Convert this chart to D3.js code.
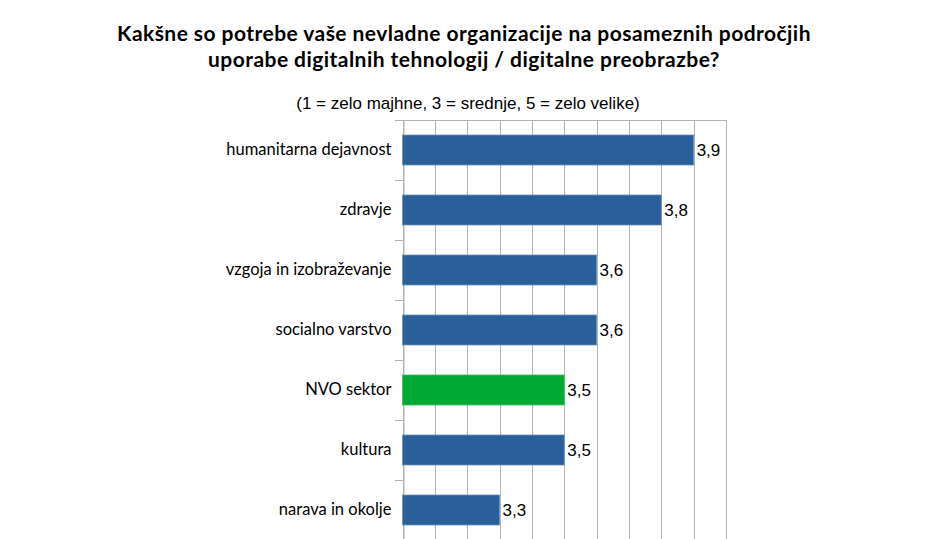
<!DOCTYPE html>
<html>
<head>
<meta charset="utf-8">
<script src="https://cdn.jsdelivr.net/npm/d3@7"></script>
<style>
  html, body { margin: 0; padding: 0; background: #fff; }
  svg { display: block; }
</style>
</head>
<body>
<svg id="chart" width="927" height="539"></svg>
<script>
const titleLines = ["Kakšne so potrebe vaše nevladne organizacije na posameznih področjih", "uporabe digitalnih tehnologij / digitalne preobrazbe?"];
const subtitle = "(1 = zelo majhne, 3 = srednje, 5 = zelo velike)";
const categories = ["humanitarna dejavnost", "zdravje", "vzgoja in izobraževanje", "socialno varstvo", "NVO sektor", "kultura", "narava in okolje"];
const values = [3.9, 3.8, 3.6, 3.6, 3.5, 3.5, 3.3];
const highlight = ["NVO sektor"];
const xDomain = [3.0, 4.0];
const xTicks = [3.0, 3.1, 3.2, 3.3, 3.4, 3.5, 3.6, 3.7, 3.8, 3.9, 4.0];

(function () {
const svg = d3.select("#chart");
const pLeft = 402.5, pRight = 726, pTop = 120, pBottom = 540;

const x = d3.scaleLinear().domain(xDomain).range([pLeft, pRight]);
const y = d3.scaleBand().domain(categories).range([pTop, pBottom]).paddingInner(0.5).paddingOuter(0.25);

// title
svg.append("g").selectAll("text").data(titleLines).join("text")
  .attr("x", 464).attr("y", (d, i) => 41 + i * 25.5).attr("text-anchor", "middle")
  .attr("font-family", "Lato, sans-serif").attr("font-weight", "bold").attr("font-size", 21)
  .attr("letter-spacing", 0.45)
  .attr("fill", "#000")
  .text(d => d);

svg.append("text")
  .attr("x", 468).attr("y", 109).attr("text-anchor", "middle")
  .attr("font-family", "'Liberation Sans Narrow', 'Liberation Sans', sans-serif").attr("font-size", 17)
  .attr("fill", "#000").text(subtitle);

// gridlines
const grid = svg.append("g").attr("stroke", "#b3b3b3").attr("stroke-width", 1);
grid.selectAll("line.v").data(xTicks).join("line")
  .attr("x1", d => Math.round(x(d)) + 0.5).attr("x2", d => Math.round(x(d)) + 0.5)
  .attr("y1", pTop).attr("y2", pBottom);
grid.append("line").attr("x1", 395).attr("x2", pRight + 0.5).attr("y1", pTop + 0.5).attr("y2", pTop + 0.5);

// y axis
const yAxis = d3.axisLeft(y).tickSize(0).tickPadding(12);
const ga = svg.append("g").attr("transform", `translate(${Math.round(pLeft) + 0.5},0)`).call(yAxis);
ga.select(".domain").attr("stroke", "#b3b3b3");
ga.selectAll("text").attr("font-family", "Lato, sans-serif").attr("font-size", 16.5).attr("fill", "#000");
// category boundary ticks
const bounds = categories.map((c, i) => pTop + (i + 1) * y.step());
svg.append("g").selectAll("line").data(bounds).join("line")
  .attr("x1", 395).attr("x2", Math.round(pLeft) + 0.5)
  .attr("y1", d => Math.round(d) + 0.5).attr("y2", d => Math.round(d) + 0.5)
  .attr("stroke", "#b3b3b3");

// bars
svg.append("g").selectAll("rect").data(categories).join("rect")
  .attr("x", x(xDomain[0]))
  .attr("y", d => y(d))
  .attr("width", (d, i) => x(values[i]) - x(xDomain[0]))
  .attr("height", y.bandwidth())
  .attr("fill", d => highlight.includes(d) ? "#00a933" : "#2a6099")
  .attr("stroke", d => highlight.includes(d) ? "#3dbb63" : "#6f90b8")
  .attr("stroke-width", 0.8);

// value labels
svg.append("g").selectAll("text").data(categories).join("text")
  .attr("x", (d, i) => x(values[i]) + 3)
  .attr("y", d => y(d) + y.bandwidth() / 2)
  .attr("dy", "0.36em")
  .attr("font-family", "'Liberation Sans', Arial, sans-serif").attr("font-size", 17)
  .attr("fill", "#000")
  .text((d, i) => d3.format(".1f")(values[i]).replace(".", ","));
})();
</script>
</body>
</html>
